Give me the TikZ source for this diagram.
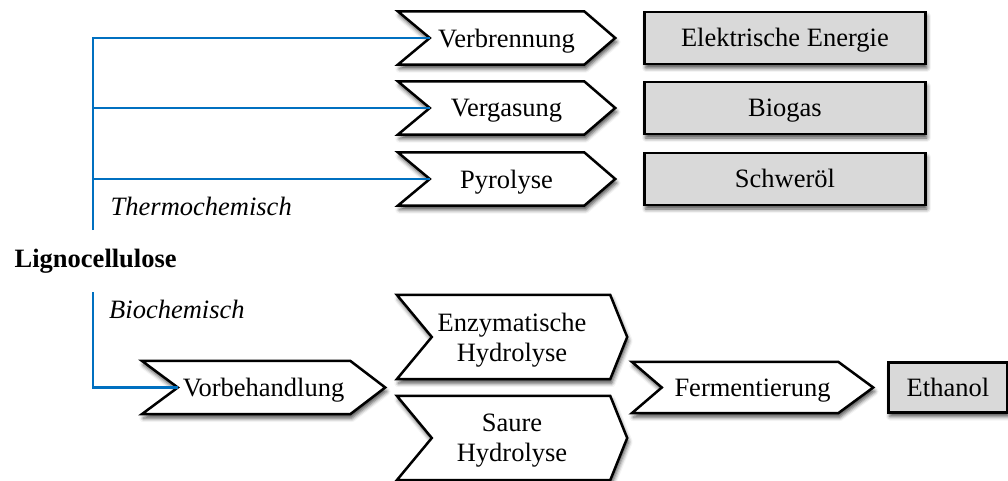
\documentclass[tikz,border=0pt]{standalone}
\usepackage{fontspec}
\setmainfont{Liberation Serif}
\usetikzlibrary{positioning,shadows.blur}
\definecolor{linkblue}{RGB}{0,112,192}
\definecolor{resultgray}{RGB}{217,217,217}
\newcommand{\diagfont}{\fontsize{26.5}{30}\selectfont}
\tikzset{softshadow/.style = {blur shadow={shadow xshift=1.5pt, shadow yshift=-4pt, shadow blur radius=4pt, shadow opacity=70}}}
\tikzset{stage/.style = {minimum height=53pt, inner sep=0pt}}
\tikzset{chevline/.style = {draw, line width=2.5pt, fill=white, softshadow}}
\tikzset{product/.style = {draw, line width=2.4pt, fill=resultgray, minimum height=52pt, inner sep=0pt,
                           text height=23.6pt, text depth=5.7pt, softshadow}}
\tikzset{branch/.style = {draw=linkblue, line width=2.2pt}}
\tikzset{route/.style = {anchor=base west, inner sep=0pt, font=\diagfont\itshape}}
% chevron round a stage frame: name, notch depth, tip depth, text
\newcommand{\chevron}[4]{%
  \path[chevline] (#1.north west) -- ([xshift=-#3]#1.north east) -- (#1.east)
    -- ([xshift=-#3]#1.south east) -- (#1.south west) -- ([xshift=#2]#1.west) -- cycle;
  \node [align=center, yshift=-3pt] (#1-text) at (#1) {#4};
  \coordinate (#1-in) at ([xshift=#2]#1.west);}

\begin{document}
\begin{tikzpicture}[x=1pt, y=-1pt, font=\diagfont]
  \useasboundingbox (0,0) rectangle (1008,481);

  % thermochemical route
  \node [stage, minimum width=217pt] (verb) at (506.5,38) {};
  \node [stage, minimum width=217pt] (verg) at (506.5,108) {};
  \node [stage, minimum width=217pt] (pyro) at (506.5,179) {};
  \chevron{verb}{32pt}{31pt}{Verbrennung}
  \chevron{verg}{32pt}{31pt}{Vergasung}
  \chevron{pyro}{32pt}{31pt}{Pyrolyse}

  \node [product, minimum width=281pt, right=28pt of verb] (strom) {Elektrische Energie};
  \node [product, minimum width=281pt, right=28pt of verg] (biogas) {Biogas};
  \node [product, minimum width=281pt, right=28pt of pyro] (oel) {Schweröl};

  % biochemical route
  \node [stage, minimum width=243pt] (vorb) at (263.5,387.5) {};
  \node [stage, minimum width=230pt, minimum height=84pt] (enz) at (512,337) {};
  \node [stage, minimum width=230pt, minimum height=84pt] (saure) at (512,438) {};
  \node [stage, minimum width=241pt, minimum height=51pt] (ferm) at (752.5,387.5) {};
  \chevron{vorb}{36pt}{35pt}{Vorbehandlung}
  \chevron{enz}{35pt}{17pt}{Enzymatische\\Hydrolyse}
  \chevron{saure}{35pt}{17pt}{Saure\\Hydrolyse}
  \chevron{ferm}{30pt}{35pt}{Fermentierung}

  \node [product, minimum width=119pt, minimum height=50pt, right=14pt of ferm] (ethanol) {Ethanol};

  % labels
  \node [anchor=base west, inner sep=0pt, font=\diagfont\bfseries] (ligno) at (14.5,267) {Lignocellulose};
  \node [route] (thermo) at (110.5,215) {Thermochemisch};
  \node [route] (bio) at (109,318) {Biochemisch};

  % connectors
  \coordinate (thermo root) at (93,230);
  \coordinate (bio root) at (93,292);
  \draw [branch] (thermo root) |- (verb-in);
  \draw [branch] (thermo root |- verg-in) -- (verg-in);
  \draw [branch] (thermo root |- pyro-in) -- (pyro-in);
  \draw [branch] (bio root) |- (vorb-in);
\end{tikzpicture}
\end{document}
